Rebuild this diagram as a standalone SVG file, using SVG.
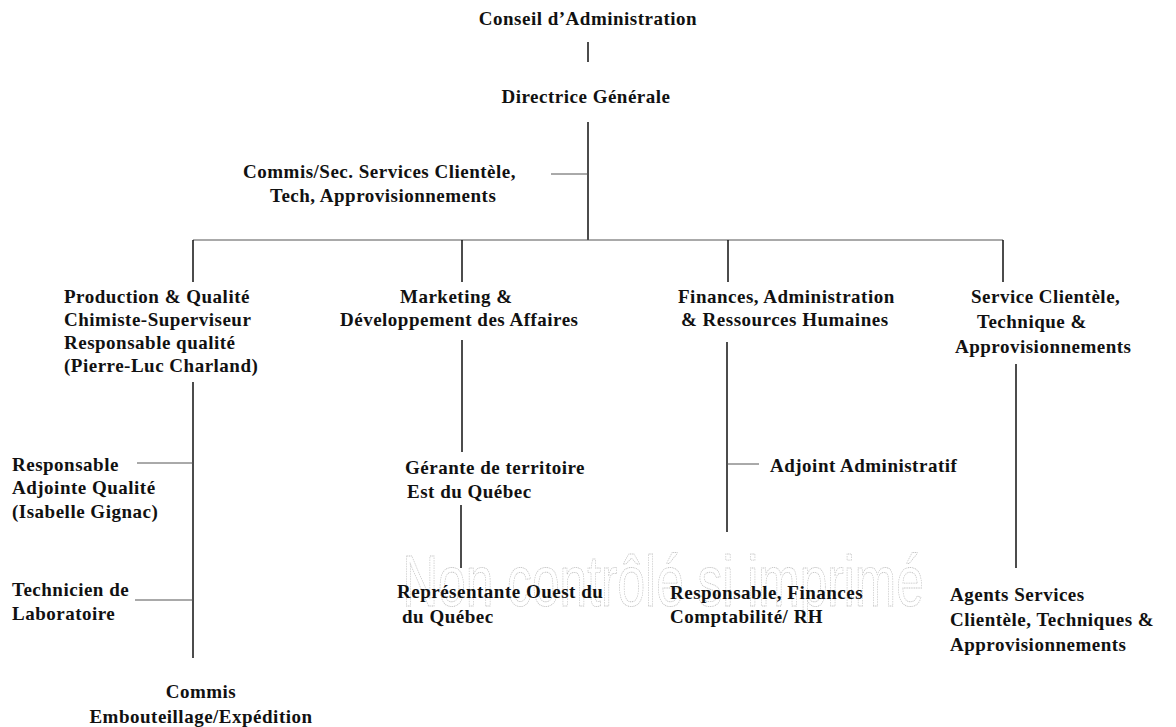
<svg xmlns="http://www.w3.org/2000/svg" width="1176" height="727" viewBox="0 0 1176 727">
<style>
  .t { font-family: "Liberation Serif", "Times New Roman", "DejaVu Serif", serif; font-weight: bold; font-size: 19px; letter-spacing: 0.5px; fill: #111; }
  .v { stroke: #111; stroke-width: 1.5; fill: none; }
  .h { stroke: #555; stroke-width: 1; fill: none; }
  .wm { font-family: "Liberation Sans", Arial, sans-serif; font-size: 72px; fill: none; stroke: #c4c4c4; stroke-width: 0.9; stroke-dasharray: 1.5 1; }
</style>
<rect width="1176" height="727" fill="#fff"/>
<text class="wm" transform="translate(663,606) scale(0.69,1)" text-anchor="middle">Non contrôlé si imprimé</text>
<g id="connectors">
  <line class="v" x1="588" y1="42" x2="588" y2="62"/>
  <line class="v" x1="588" y1="122" x2="588" y2="240"/>
  <line class="h" x1="551" y1="174" x2="588" y2="174"/>
  <line class="h" x1="193" y1="240" x2="1003" y2="240"/>
  <line class="v" x1="193" y1="240" x2="193" y2="282"/>
  <line class="v" x1="462" y1="240" x2="462" y2="282"/>
  <line class="v" x1="728" y1="240" x2="728" y2="282"/>
  <line class="v" x1="1003" y1="240" x2="1003" y2="282"/>
  <line class="v" x1="193" y1="382" x2="193" y2="658"/>
  <line class="h" x1="137" y1="463" x2="193" y2="463"/>
  <line class="h" x1="135" y1="600" x2="193" y2="600"/>
  <line class="v" x1="462" y1="340" x2="462" y2="452"/>
  <line class="v" x1="461" y1="505" x2="461" y2="568"/>
  <line class="v" x1="727" y1="342" x2="727" y2="532"/>
  <line class="h" x1="727" y1="464" x2="759" y2="464"/>
  <line class="v" x1="1016" y1="364" x2="1016" y2="568"/>
</g>
<g id="conseil"><text class="t" x="588" y="25" text-anchor="middle">Conseil d’Administration</text></g>
<g id="directrice"><text class="t" x="586" y="103" text-anchor="middle">Directrice Générale</text></g>
<g id="commis-sec">
  <text class="t" x="243" y="178">Commis/Sec. Services Clientèle,</text>
  <text class="t" x="270" y="202">Tech, Approvisionnements</text>
</g>
<g id="production">
  <text class="t" x="64" y="303">Production &amp; Qualité</text>
  <text class="t" x="64" y="326">Chimiste-Superviseur</text>
  <text class="t" x="64" y="349">Responsable qualité</text>
  <text class="t" x="64" y="372">(Pierre-Luc Charland)</text>
</g>
<g id="responsable-adjointe">
  <text class="t" x="12" y="471">Responsable</text>
  <text class="t" x="12" y="494">Adjointe Qualité</text>
  <text class="t" x="12" y="518">(Isabelle Gignac)</text>
</g>
<g id="technicien">
  <text class="t" x="12" y="596">Technicien de</text>
  <text class="t" x="12" y="620">Laboratoire</text>
</g>
<g id="commis-embouteillage">
  <text class="t" x="201" y="698" text-anchor="middle">Commis</text>
  <text class="t" x="201" y="723" text-anchor="middle">Embouteillage/Expédition</text>
</g>
<g id="marketing">
  <text class="t" x="400" y="303">Marketing &amp;</text>
  <text class="t" x="340" y="326">Développement des Affaires</text>
</g>
<g id="gerante">
  <text class="t" x="405" y="474">Gérante de territoire</text>
  <text class="t" x="407" y="498">Est du Québec</text>
</g>
<g id="representante">
  <text class="t" x="397" y="598">Représentante Ouest du</text>
  <text class="t" x="402" y="623">du Québec</text>
</g>
<g id="finances">
  <text class="t" x="678" y="303">Finances, Administration</text>
  <text class="t" x="681" y="326">&amp; Ressources Humaines</text>
</g>
<g id="adjoint"><text class="t" x="770" y="472">Adjoint Administratif</text></g>
<g id="responsable-finances">
  <text class="t" x="670" y="599">Responsable, Finances</text>
  <text class="t" x="670" y="623">Comptabilité/ RH</text>
</g>
<g id="service">
  <text class="t" x="971" y="303">Service Clientèle,</text>
  <text class="t" x="977" y="328">Technique &amp;</text>
  <text class="t" x="955" y="353">Approvisionnements</text>
</g>
<g id="agents">
  <text class="t" x="950" y="601">Agents Services</text>
  <text class="t" x="950" y="626">Clientèle, Techniques &amp;</text>
  <text class="t" x="950" y="651">Approvisionnements</text>
</g>
</svg>
